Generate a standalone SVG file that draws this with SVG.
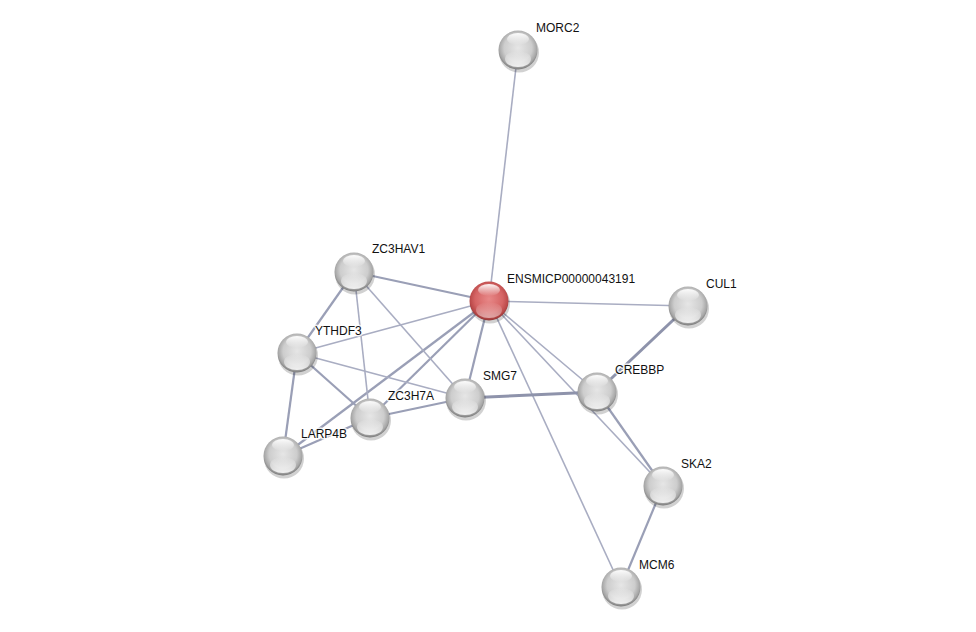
<svg xmlns="http://www.w3.org/2000/svg" width="976" height="632" viewBox="0 0 976 632">
<style>
.e{stroke:#a9adc2;stroke-width:1.6;fill:none}
.m{stroke:#9a9fb6;stroke-width:2.2}
.t{stroke:#8e93ab;stroke-width:3}
.lbl{font-family:"Liberation Sans",Arial,sans-serif;font-size:12px;fill:#111;stroke:#fff;stroke-width:3;stroke-opacity:0.8;paint-order:stroke;stroke-linejoin:round}
</style>
<defs>
<radialGradient id="gg" cx="0.5" cy="0.45" r="0.55">
<stop offset="0" stop-color="#e6e6e6"/>
<stop offset="0.65" stop-color="#cdcdcd"/>
<stop offset="0.88" stop-color="#a6a6a6"/>
<stop offset="1" stop-color="#777"/>
</radialGradient>
<radialGradient id="gr" cx="0.5" cy="0.45" r="0.55">
<stop offset="0" stop-color="#e88888"/>
<stop offset="0.65" stop-color="#d56464"/>
<stop offset="0.88" stop-color="#bb4a4a"/>
<stop offset="1" stop-color="#8e3535"/>
</radialGradient>
<linearGradient id="hl" x1="0" y1="0" x2="0" y2="1">
<stop offset="0" stop-color="#fff" stop-opacity="0.95"/>
<stop offset="1" stop-color="#fff" stop-opacity="0"/>
</linearGradient>
<linearGradient id="bl" x1="0" y1="0" x2="0" y2="1">
<stop offset="0" stop-color="#fff" stop-opacity="0"/>
<stop offset="1" stop-color="#fff" stop-opacity="0.85"/>
</linearGradient>
<g id="sph">
<circle cx="1" cy="2.5" r="20" fill="#000" opacity="0.18"/>
<circle r="19.5" fill="url(#gg)"/>
<ellipse cx="0" cy="-11" rx="11" ry="6" fill="url(#hl)"/>
<ellipse cx="0" cy="9" rx="13" ry="8" fill="url(#bl)"/>
</g>
<g id="sphr">
<circle cx="1" cy="2.5" r="20" fill="#000" opacity="0.18"/>
<circle r="19.5" fill="url(#gr)"/>
<ellipse cx="0" cy="-11" rx="11" ry="6" fill="url(#hl)"/>
<ellipse cx="0" cy="9" rx="13" ry="8" fill="url(#bl)" opacity="0.6"/>
</g>
</defs>
<rect width="976" height="632" fill="#fff"/>
<g id="edges">
<line class="e" x1="489" y1="301" x2="518" y2="50"/>
<line class="e m" x1="489" y1="301" x2="354" y2="272"/>
<line class="e" x1="489" y1="301" x2="297" y2="353"/>
<line class="e m" x1="489" y1="301" x2="370" y2="418"/>
<line class="e m" x1="489" y1="301" x2="283" y2="456"/>
<line class="e m" x1="489" y1="301" x2="465" y2="398"/>
<line class="e" x1="489" y1="301" x2="597" y2="392"/>
<line class="e" x1="489" y1="301" x2="663" y2="486"/>
<line class="e" x1="489" y1="301" x2="621" y2="587"/>
<line class="e" x1="489" y1="301" x2="688" y2="306"/>
<line class="e m" x1="354" y1="272" x2="297" y2="353"/>
<line class="e" x1="354" y1="272" x2="370" y2="418"/>
<line class="e" x1="354" y1="272" x2="465" y2="398"/>
<line class="e" x1="297" y1="353" x2="465" y2="398"/>
<line class="e m" x1="297" y1="353" x2="370" y2="418"/>
<line class="e m" x1="297" y1="353" x2="283" y2="456"/>
<line class="e m" x1="370" y1="418" x2="465" y2="398"/>
<line class="e m" x1="283" y1="456" x2="370" y2="418"/>
<line class="e t" x1="465" y1="398" x2="597" y2="392"/>
<line class="e t" x1="688" y1="306" x2="597" y2="392"/>
<line class="e m" x1="597" y1="392" x2="663" y2="486"/>
<line class="e m" x1="663" y1="486" x2="621" y2="587"/>
</g>
<g id="MORC2"><use href="#sph" x="518" y="50"/><text class="lbl" x="536" y="32">MORC2</text></g>
<g id="ZC3HAV1"><use href="#sph" x="354" y="272"/><text class="lbl" x="372" y="253">ZC3HAV1</text></g>
<g id="ENSMICP00000043191"><use href="#sphr" x="489" y="301"/><text class="lbl" x="507" y="283">ENSMICP00000043191</text></g>
<g id="CUL1"><use href="#sph" x="688" y="306"/><text class="lbl" x="706" y="288">CUL1</text></g>
<g id="YTHDF3"><use href="#sph" x="297" y="353"/><text class="lbl" x="315" y="335">YTHDF3</text></g>
<g id="SMG7"><use href="#sph" x="465" y="398"/><text class="lbl" x="483" y="380">SMG7</text></g>
<g id="CREBBP"><use href="#sph" x="597" y="392"/><text class="lbl" x="615" y="374">CREBBP</text></g>
<g id="ZC3H7A"><use href="#sph" x="370" y="418"/><text class="lbl" x="388" y="400">ZC3H7A</text></g>
<g id="LARP4B"><use href="#sph" x="283" y="456"/><text class="lbl" x="301" y="438">LARP4B</text></g>
<g id="SKA2"><use href="#sph" x="663" y="486"/><text class="lbl" x="681" y="468">SKA2</text></g>
<g id="MCM6"><use href="#sph" x="621" y="587"/><text class="lbl" x="639" y="569">MCM6</text></g>
</svg>
